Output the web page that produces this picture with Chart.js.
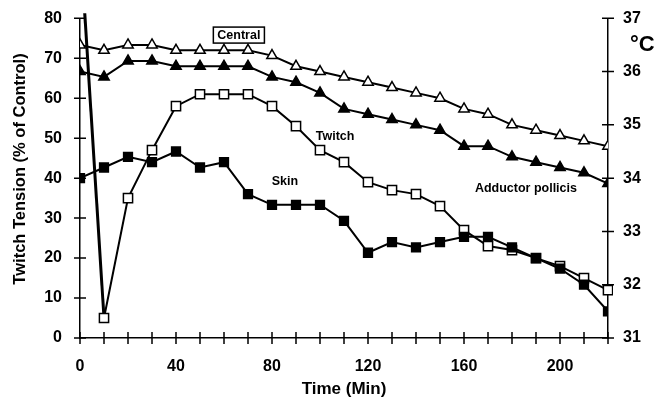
<!DOCTYPE html>
<html><head><meta charset="utf-8">
<script src="https://cdn.jsdelivr.net/npm/chart.js@4.4.1/dist/chart.umd.min.js"></script>
<style>html,body{margin:0;padding:0;background:#fff}#wrap{width:669px;height:402px;position:relative}</style>
</head><body><div id="wrap"><canvas id="c"></canvas></div>
<script>
const timeMin = [0,10,20,30,40,50,60,70,80,90,100,110,120,130,140,150,160,170,180,190,200,210,220];
const twitchPct = [100,5,35,47,58,61,61,61,58,53,47,44,39,37,36,33,27,23,22,20,18,15,12];
const centralC = [36.5,36.4,36.5,36.5,36.4,36.4,36.4,36.4,36.3,36.1,36.0,35.9,35.8,35.7,35.6,35.5,35.3,35.2,35.0,34.9,34.8,34.7,34.6];
const adductorC = [36.0,35.9,36.2,36.2,36.1,36.1,36.1,36.1,35.9,35.8,35.6,35.3,35.2,35.1,35.0,34.9,34.6,34.6,34.4,34.3,34.2,34.1,33.9];
const skinC = [34.0,34.2,34.4,34.3,34.5,34.2,34.3,33.7,33.5,33.5,33.5,33.2,32.6,32.8,32.7,32.8,32.9,32.9,32.7,32.5,32.3,32.0,31.5];
const xLabelTicks = [0,40,80,120,160,200];
const seriesLabels = ['Central','Adductor pollicis','Skin','Twitch'];
const yTitle = 'Twitch Tension (% of Control)';
const xTitle = 'Time (Min)';
const y2Unit = '°C';

const FONT = "'Liberation Sans', Arial, sans-serif";
const pts = arr => arr.map((v,i)=>({x:timeMin[i], y:v}));

const crossTicks = {
  id:'crossTicks',
  afterDraw(chart){
    const ctx = chart.ctx, {x, y, y2} = chart.scales;
    const L = 6;
    ctx.save();
    ctx.strokeStyle = '#000'; ctx.lineWidth = 1.5;
    ctx.beginPath();
    x.ticks.forEach(t=>{const px=x.getPixelForValue(t.value); ctx.moveTo(px,x.top-L); ctx.lineTo(px,x.top+L);});
    y.ticks.forEach(t=>{const py=y.getPixelForValue(t.value); ctx.moveTo(y.right-L,py); ctx.lineTo(y.right+L,py);});
    y2.ticks.forEach(t=>{const py=y2.getPixelForValue(t.value); ctx.moveTo(y2.left-L,py); ctx.lineTo(y2.left+L,py);});
    ctx.stroke();
    ctx.fillStyle = '#000';
    ctx.textAlign = 'center'; ctx.textBaseline = 'middle';
    ctx.font = "bold 12.5px " + FONT;
    const lab = (txt, tx, ty, box) => {
      const px = x.getPixelForValue(tx), py = y.getPixelForValue(ty);
      ctx.fillText(txt, px, py);
      if (box) {
        const w = ctx.measureText(txt).width;
        ctx.lineWidth = 1.5;
        ctx.strokeRect(px - w/2 - 4, py - 8, w + 8, 16);
      }
    };
    lab(seriesLabels[0], 66.2, 75.8, true);
    lab(seriesLabels[3], 106.3, 50.3);
    lab(seriesLabels[2], 85.4, 39.1);
    lab(seriesLabels[1], 185.8, 37.3);
    ctx.font = "bold 22px " + FONT;
    ctx.textAlign = 'left';
    ctx.fillText(y2Unit, 630, 45);
    ctx.save();
    ctx.translate(20, 169);
    ctx.rotate(-Math.PI/2);
    ctx.textAlign = 'center';
    ctx.font = "bold 16.5px " + FONT;
    ctx.fillText(yTitle, 0, 0);
    ctx.restore();
    ctx.restore();
  }
};

const common = {borderColor:'#000', borderWidth:2, pointBorderColor:'#000', pointBorderWidth:1.5, tension:0, fill:false};

new Chart(document.getElementById('c'), {
  type:'line',
  data:{datasets:[
    Object.assign({label:seriesLabels[0], data:pts(centralC), yAxisID:'y2', pointStyle:'triangle', pointRadius:6, pointBackgroundColor:'#fff'}, common),
    Object.assign({label:seriesLabels[1], data:pts(adductorC), yAxisID:'y2', pointStyle:'triangle', pointRadius:6, pointBackgroundColor:'#000'}, common),
    Object.assign({label:seriesLabels[2], data:pts(skinC), yAxisID:'y2', pointStyle:'rect', pointRadius:6.2, pointBackgroundColor:'#000'}, common),
    Object.assign({}, common, {label:seriesLabels[3], data:pts(twitchPct), yAxisID:'y', pointStyle:'rect', pointRadius:twitchPct.map((v,i)=>i===0?0:6.5), pointBackgroundColor:'#fff',
      clip:{left:5,top:5,right:5,bottom:5},
      segment:{borderWidth: c => c.p0DataIndex===0 ? 3 : 2}})
  ]},
  options:{
    responsive:true, maintainAspectRatio:false, animation:false,
    layout:{padding:{top:18.3, left:0, right:0, bottom:0}},
    plugins:{legend:{display:false}, tooltip:{enabled:false}},
    elements:{line:{borderJoinStyle:'miter'}},
    scales:{
      x:{type:'linear', min:0, max:220,
        afterBuildTicks: s => { s.ticks = timeMin.map(v=>({value:v})); },
        afterFit: s => { s.height = 64; s.paddingLeft = 0; s.paddingRight = 0; },
        ticks:{autoSkip:false, maxRotation:0, padding:19, color:'#000', font:{family:FONT, size:16, weight:'bold'},
          callback: v => xLabelTicks.includes(v) ? String(v) : ''},
        grid:{drawOnChartArea:false, drawTicks:false},
        border:{display:true, color:'#000', width:1.5},
        title:{display:true, text:xTitle, color:'#000', font:{family:FONT, size:17, weight:'bold'}, padding:{top:0,bottom:2}}
      },
      y:{position:'left', min:0, max:80,
        afterFit: s => { s.width = 80; s.paddingTop = 0; s.paddingBottom = 0; },
        ticks:{stepSize:10, padding:18, color:'#000', font:{family:FONT, size:16, weight:'bold'}},
        grid:{drawOnChartArea:false, drawTicks:false},
        border:{display:true, color:'#000', width:1.5}
      },
      y2:{position:'right', min:31, max:37,
        afterFit: s => { s.width = 61; s.paddingTop = 0; s.paddingBottom = 0; },
        ticks:{stepSize:1, padding:15, color:'#000', font:{family:FONT, size:16, weight:'bold'}},
        grid:{drawOnChartArea:false, drawTicks:false},
        border:{display:true, color:'#000', width:1.5}
      }
    }
  },
  plugins:[crossTicks]
});
</script></body></html>
